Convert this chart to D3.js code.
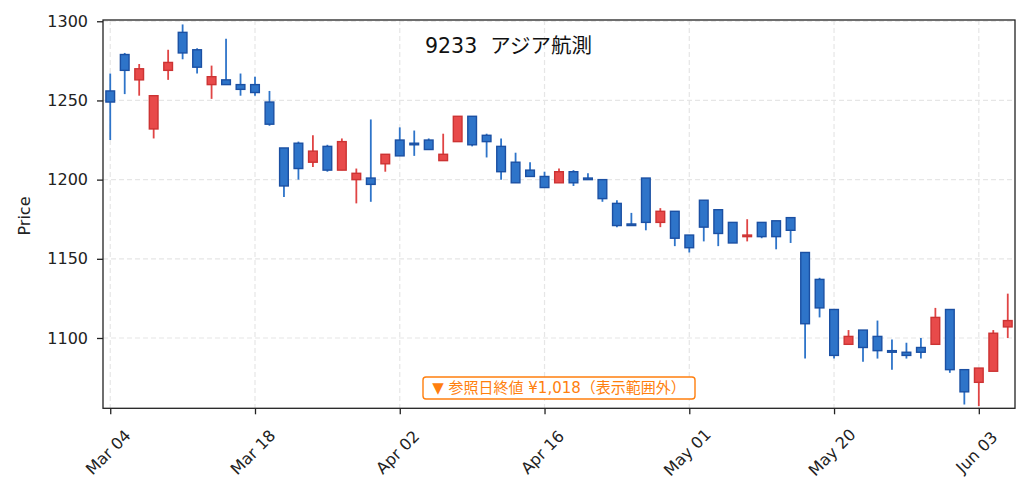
<!DOCTYPE html>
<html>
<head>
<meta charset="utf-8">
<script src="https://cdn.jsdelivr.net/npm/d3@7/dist/d3.min.js"></script>
<style>
  html, body { margin: 0; padding: 0; background: #fff; }
  svg { display: block; }
  text { font-family: "DejaVu Sans", "Noto Sans CJK JP", sans-serif; }
</style>
</head>
<body>
<svg id="chart" width="1029" height="497"></svg>
<script>
// ---- data ----
const dates = [
  "2024-03-04","2024-03-05","2024-03-06","2024-03-07","2024-03-08",
  "2024-03-11","2024-03-12","2024-03-13","2024-03-14","2024-03-15",
  "2024-03-18","2024-03-19","2024-03-21","2024-03-22","2024-03-25",
  "2024-03-26","2024-03-27","2024-03-28","2024-03-29","2024-04-01",
  "2024-04-02","2024-04-03","2024-04-04","2024-04-05","2024-04-08",
  "2024-04-09","2024-04-10","2024-04-11","2024-04-12","2024-04-15",
  "2024-04-16","2024-04-17","2024-04-18","2024-04-19","2024-04-22",
  "2024-04-23","2024-04-24","2024-04-25","2024-04-26","2024-04-30",
  "2024-05-01","2024-05-02","2024-05-07","2024-05-08","2024-05-09",
  "2024-05-10","2024-05-13","2024-05-14","2024-05-15","2024-05-17",
  "2024-05-20","2024-05-21","2024-05-22","2024-05-23","2024-05-24",
  "2024-05-27","2024-05-28","2024-05-29","2024-05-30","2024-05-31",
  "2024-06-03","2024-06-04","2024-06-05"
];
const open  = [1256,1279,1263,1232,1269,1293,1282,1260,1263,1260,
               1260,1249,1220,1223,1211,1221,1206,1200,1201,1210,
               1225,1223,1225,1212,1224,1240,1228,1221,1211,1206,
               1202,1198,1205,1201,1200,1185,1172,1201,1173,1180,
               1165,1187,1181,1173,1164,1173,1174,1176,1154,1137,
               1118,1096,1105,1101,1092,1091,1094,1096,1118,1080,
               1072,1079,1107];
const high  = [1267,1280,1273,1253,1282,1298,1283,1272,1289,1267,
               1265,1256,1220,1224,1228,1222,1226,1207,1238,1216,
               1233,1231,1226,1229,1240,1240,1229,1226,1217,1211,
               1205,1207,1206,1204,1200,1187,1179,1201,1182,1180,
               1165,1187,1181,1173,1175,1173,1174,1176,1154,1138,
               1118,1105,1105,1111,1099,1097,1100,1119,1118,1080,
               1081,1105,1128];
const low   = [1225,1254,1253,1226,1263,1276,1267,1251,1260,1253,
               1253,1234,1189,1200,1208,1205,1206,1185,1186,1205,
               1215,1215,1219,1212,1224,1221,1214,1200,1198,1202,
               1195,1198,1196,1200,1186,1170,1171,1168,1170,1158,
               1154,1161,1158,1160,1161,1163,1156,1160,1087,1113,
               1087,1096,1085,1087,1080,1087,1087,1096,1078,1058,
               1057,1079,1100];
const close = [1249,1269,1270,1253,1274,1280,1271,1265,1260,1257,
               1255,1235,1196,1207,1218,1206,1224,1204,1197,1216,
               1215,1222,1219,1216,1240,1222,1224,1205,1198,1202,
               1195,1205,1198,1200,1188,1171,1171,1173,1180,1163,
               1157,1170,1166,1160,1165,1164,1164,1168,1109,1119,
               1089,1101,1094,1092,1091,1089,1091,1113,1080,1066,
               1081,1103,1111];
const tickIndex = [0, 10, 20, 30, 40, 50, 60];
const yTicks = [1100, 1150, 1200, 1250, 1300];
const titleText = "9233  アジア航測";
const yLabel = "Price";
const noteText = "▼ 参照日終値 ¥1,018（表示範囲外）";

// ---- layout ----
const L = 103, R = 1015, T = 20, B = 408.3;
const svg = d3.select("#chart");
const x = d3.scaleLinear().domain([-0.5, dates.length - 0.5]).range([L, R]);
const y = d3.scaleLinear().domain([1055.6, 1300.8]).range([B, T]);
const parse = d3.timeParse("%Y-%m-%d");
const fmt = d3.timeFormat("%b %d");
const step = x(1) - x(0);

svg.append("rect").attr("width", 1029).attr("height", 497).attr("fill", "#fff");

// grid
const grid = svg.append("g");
grid.selectAll("line.gx").data(tickIndex).join("line")
  .attr("x1", d => x(d)).attr("x2", d => x(d)).attr("y1", T).attr("y2", B)
  .attr("stroke", "#e6e6e6").attr("stroke-width", 1.2).attr("stroke-dasharray", "5,3");
grid.selectAll("line.gy").data(yTicks).join("line")
  .attr("x1", L).attr("x2", R).attr("y1", d => y(d)).attr("y2", d => y(d))
  .attr("stroke", "#e6e6e6").attr("stroke-width", 1.2).attr("stroke-dasharray", "5,3");

// candles
const idx = d3.range(dates.length);
const up = i => close[i] >= open[i];
const colors = {
  up:   { fill: "#e84a4a", edge: "#cc3333", wick: "#e04444" },
  down: { fill: "#2e74c9", edge: "#1b50a3", wick: "#2e74c9" }
};
const col = i => up(i) ? colors.up : colors.down;

svg.append("g").selectAll("line").data(idx).join("line")
  .attr("x1", i => x(i)).attr("x2", i => x(i))
  .attr("y1", i => y(high[i])).attr("y2", i => y(low[i]))
  .attr("stroke", i => col(i).wick).attr("stroke-width", 1.8);

const bw = step * 0.6;
svg.append("g").selectAll("rect").data(idx).join("rect")
  .attr("x", i => x(i) - bw / 2)
  .attr("width", bw)
  .attr("y", i => y(Math.max(open[i], close[i])))
  .attr("height", i => Math.max(1, Math.abs(y(open[i]) - y(close[i]))))
  .attr("fill", i => col(i).fill)
  .attr("stroke", i => col(i).edge).attr("stroke-width", 1.4);

// axes
const xAxis = d3.axisBottom(x).tickValues(tickIndex)
  .tickFormat(i => fmt(parse(dates[i]))).tickSize(6).tickPadding(4);
const gx = svg.append("g").attr("transform", `translate(0,${B})`).call(xAxis);
gx.select(".domain").remove();
gx.selectAll(".tick line").attr("stroke", "#222").attr("stroke-width", 1.3);
gx.selectAll(".tick text")
  .attr("font-size", 16).attr("fill", "#222")
  .attr("text-anchor", "middle").attr("dy", null).attr("y", null)
  .attr("dominant-baseline", "central")
  .attr("transform", "translate(-2.5,44) rotate(-45)");

const yAxis = d3.axisLeft(y).tickValues(yTicks).tickFormat(d3.format("d"))
  .tickSize(6).tickPadding(9);
const gy = svg.append("g").attr("transform", `translate(${L},0)`).call(yAxis);
gy.select(".domain").remove();
gy.selectAll(".tick line").attr("stroke", "#222").attr("stroke-width", 1.3);
gy.selectAll(".tick text").attr("font-size", 16).attr("fill", "#222");

// frame
svg.append("rect").attr("x", L).attr("y", T).attr("width", R - L).attr("height", B - T)
  .attr("fill", "none").attr("stroke", "#222").attr("stroke-width", 1.3);

// labels
svg.append("text").attr("transform", "translate(24,216) rotate(-90)")
  .attr("text-anchor", "middle").attr("dominant-baseline", "central")
  .attr("font-size", 16).attr("fill", "#222").text(yLabel);

svg.append("text").attr("x", 425).attr("y", 53)
  .attr("font-size", 20.5).attr("fill", "#111").attr("xml:space", "preserve")
  .style("white-space", "pre").text(titleText);

// note box
const cx = (L + R) / 2, cy = 388;
const note = svg.append("g");
note.append("rect")
  .attr("x", cx - 136).attr("y", cy - 11).attr("width", 272).attr("height", 22)
  .attr("rx", 3).attr("fill", "#fff").attr("stroke", "#ff7f0e").attr("stroke-width", 1.4);
note.append("text").attr("x", cx).attr("y", cy)
  .attr("text-anchor", "middle").attr("dominant-baseline", "central")
  .attr("font-size", 15).attr("fill", "#ff7f0e").text(noteText);
</script>
</body>
</html>
